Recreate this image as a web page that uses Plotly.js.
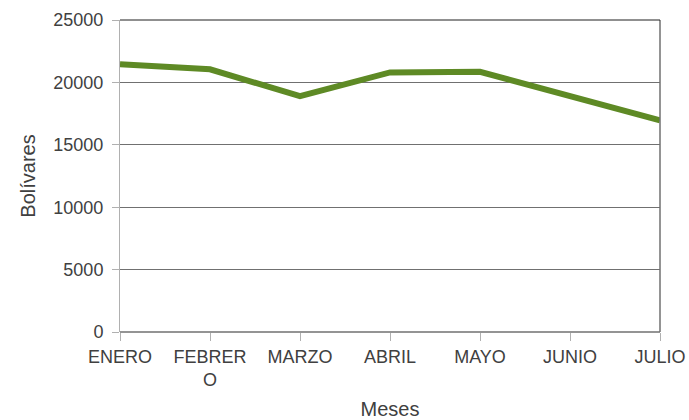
<!DOCTYPE html>
<html>
<head>
<meta charset="utf-8">
<script src="https://cdn.plot.ly/plotly-3.0.1.min.js"></script>
<style>html,body{margin:0;padding:0;background:#fff;}#chart{width:689px;height:420px;}</style>
</head>
<body>
<div id="chart"></div>
<script>
const meses = ["ENERO", "FEBRERO", "MARZO", "ABRIL", "MAYO", "JUNIO", "JULIO"];
const tickLabels = ["ENERO", "FEBRER<br>O", "MARZO", "ABRIL", "MAYO", "JUNIO", "JULIO"];
const bolivares = [21450, 21050, 18900, 20800, 20850, 18900, 16950];
const yTicks = [0, 5000, 10000, 15000, 20000, 25000];
const yTickText = ["0", "5000", "10000", "15000", "20000", "25000"];

const font = "Liberation Sans, Arial, sans-serif";
const trace = {
  x: meses,
  y: bolivares,
  type: "scatter",
  mode: "lines",
  line: {color: "#5e8a25", width: 6},
  hoverinfo: "skip"
};
const layout = {
  width: 689, height: 420,
  margin: {l: 120, r: 29, t: 20, b: 88},
  paper_bgcolor: "#fff", plot_bgcolor: "#fff",
  showlegend: false,
  font: {family: font, color: "#404040", size: 18},
  xaxis: {
    type: "category",
    tickmode: "array", tickvals: meses, ticktext: tickLabels,
    range: [0, meses.length - 1],
    showgrid: false, zeroline: false,
    showline: false,
    ticks: "outside", ticklen: 8, tickcolor: "#b0b0b0", tickwidth: 1,
    tickfont: {size: 18, color: "#404040"},
    title: {text: "Meses", font: {size: 20, color: "#404040"}, standoff: 17},
    automargin: false
  },
  yaxis: {
    range: [0, 25000],
    tickmode: "array", tickvals: yTicks, ticktext: yTickText,
    showgrid: true, gridcolor: "#707070", gridwidth: 1,
    zeroline: false,
    showline: true, linecolor: "#b0b0b0", linewidth: 1,
    ticks: "outside", ticklen: 7, tickcolor: "#b0b0b0",
    ticklabelstandoff: 5,
    tickfont: {size: 18, color: "#404040"},
    title: {text: "Bolívares", font: {size: 20, color: "#404040"}, standoff: 12},
    automargin: false
  },
  shapes: [
    {type: "line", xref: "paper", yref: "paper", x0: 1, x1: 1, y0: 0, y1: 1, line: {color: "#707070", width: 1.5}},
    {type: "line", xref: "paper", yref: "paper", x0: 0, x1: 1, y0: 1, y1: 1, line: {color: "#202020", width: 1}},
    {type: "line", xref: "paper", yref: "paper", x0: 0, x1: 1, y0: 0, y1: 0, line: {color: "#707070", width: 1.5}}
  ]
};
Plotly.newPlot("chart", [trace], layout, {displayModeBar: false, staticPlot: true});
</script>
</body>
</html>
